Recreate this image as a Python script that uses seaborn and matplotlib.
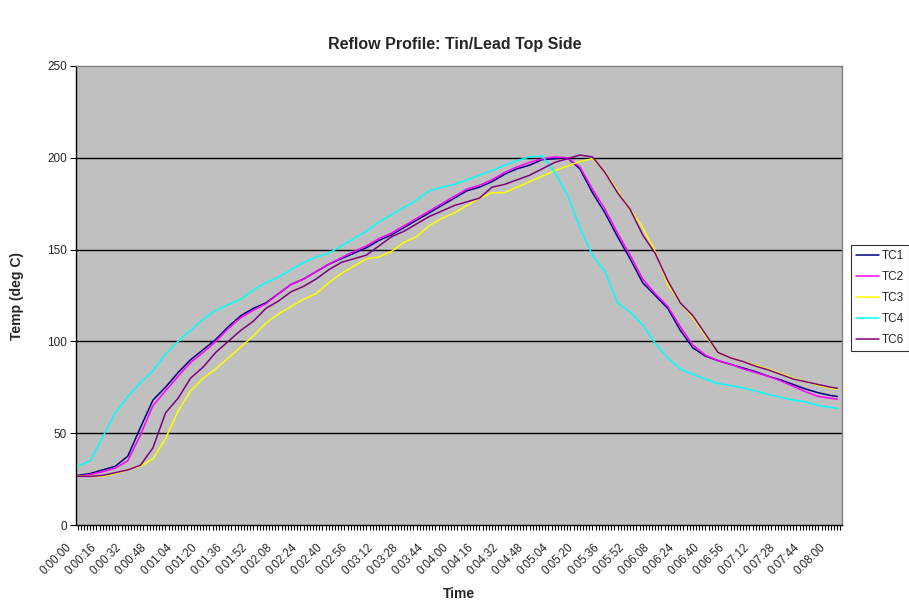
import numpy as np
import pandas as pd
import seaborn as sns
import matplotlib
matplotlib.use("Agg")
import matplotlib.pyplot as plt
from matplotlib.ticker import MultipleLocator, FuncFormatter
from matplotlib.lines import Line2D
import matplotlib.transforms as mtransforms

# Elapsed time in seconds (8 s steps, plus the final sample)
seconds = list(range(0, 481, 8)) + [484]

tc1 = [27, 28, 30, 32, 37.5, 53, 68, 75, 83, 90, 95.5, 101, 108, 114, 118, 121,
       126, 131, 134, 138, 142, 145, 148, 151, 155, 158, 162, 166, 170, 174, 178,
       182, 184, 187, 191, 194, 196, 199, 199.5, 200, 194, 181, 170, 157, 145,
       132, 125, 118, 106, 96.5, 92, 89.5, 87.5, 85.5, 83.5, 81, 79, 76.5, 74,
       72, 70.5, 70]
tc2 = [26.5, 27.5, 29, 31, 35, 49, 65, 73, 81, 88.5, 94, 100, 107, 113, 117,
       120.5, 126, 131, 134, 138, 142, 145.5, 149, 152, 156, 159, 163, 167, 171,
       175, 179, 183, 185, 188, 192, 195, 197.5, 199.5, 200.5, 200, 195, 183,
       172, 159, 147, 134, 126, 119, 108, 98, 92.5, 89.5, 87.5, 85, 83, 81, 78.5,
       75.5, 72.5, 70, 69, 68.5]
tc3 = [26.5, 26.5, 26.5, 28, 30, 32, 36, 47, 62, 73, 80, 85, 91, 97, 103, 110,
       115, 119, 123, 126, 132, 137, 141, 145, 146, 149, 154, 157, 163, 167, 170,
       174, 178, 181, 181, 184, 187, 190, 193, 195.5, 198, 199.5, 192.5, 182,
       172, 162, 149, 131, 121, 113, 103, 94, 91, 89, 87, 85, 82.5, 80, 78, 76,
       74.5, 74]
tc4 = [32, 35, 48, 61, 70, 77.5, 84, 93, 100, 106, 112, 117, 120, 123, 128, 132,
       135, 139, 143, 146, 148, 152, 156, 160, 165, 169, 173, 177, 182, 184,
       185.5, 188, 190.5, 193, 196, 198.5, 200.5, 201, 192, 180, 162, 147, 138,
       121, 116, 109, 99, 91, 85, 82, 79.5, 77, 76, 74.5, 73, 71, 69.5, 68, 67,
       65, 64, 63.5]
tc6 = [26.5, 26.5, 27, 28.5, 30, 32.5, 42, 61, 69, 80, 86, 94, 100, 106, 111,
       118, 122, 127, 130, 134, 139, 143, 145, 147, 152, 157, 160, 164, 168, 171,
       174, 176, 178, 184, 185.5, 188, 190.5, 194, 197.5, 199.5, 201.5, 200.5,
       192, 181, 172, 158, 148, 133, 121, 114, 104, 94, 91, 89, 86.5, 84.5, 82,
       79.5, 78, 76.5, 75, 74.5]

sensors = ["TC1", "TC2", "TC3", "TC4", "TC6"]
colors = ["#000080", "#FF00FF", "#FFFF00", "#00FFFF", "#800080"]

df = pd.concat(
    [pd.DataFrame({"seconds": seconds, "temp": vals, "sensor": name})
     for name, vals in zip(sensors, [tc1, tc2, tc3, tc4, tc6])],
    ignore_index=True,
)

sns.set_style("white")
plt.rcParams["font.family"] = ["Liberation Sans", "DejaVu Sans"]

fig = plt.figure(figsize=(9.09, 6.03), dpi=100)
ax = fig.add_axes([76 / 909, 78 / 603, 766 / 909, 459 / 603])
ax.set_facecolor("#C0C0C0")

# horizontal grid lines at every 50 degrees (below the top border)
for yv in (50, 100, 150, 200):
    ax.axhline(yv, color="black", lw=1.0, zorder=1)

sns.lineplot(data=df, x="seconds", y="temp", hue="sensor",
             palette=dict(zip(sensors, colors)), hue_order=sensors,
             linewidth=1.1, legend=False, ax=ax, zorder=3)

ax.set_xlim(-1, 487)
ax.set_ylim(0, 250)
ax.set_yticks(np.arange(0, 251, 50))
ax.xaxis.set_major_locator(MultipleLocator(16))
ax.xaxis.set_minor_locator(MultipleLocator(2))


def hms(v, pos=None):
    v = int(round(v))
    return f"{v // 3600}:{(v % 3600) // 60:02d}:{v % 60:02d}"


ax.xaxis.set_major_formatter(FuncFormatter(hms))
ax.tick_params(axis="x", which="both", direction="out", length=3.5,
               width=0.8, color="black", bottom=True, labelsize=8.3, pad=8.5)
ax.tick_params(axis="y", which="major", direction="out", length=4.5,
               width=0.8, color="black", left=True, labelsize=8.5, pad=2)
for lab in ax.get_xticklabels():
    lab.set_rotation(45)
    lab.set_ha("right")
    lab.set_va("top")
    lab.set_rotation_mode("anchor")
    lab.set_transform(lab.get_transform() + mtransforms.ScaledTranslation(
        -12 / 100, 0, fig.dpi_scale_trans))

for side in ("left", "bottom"):
    ax.spines[side].set_color("black")
    ax.spines[side].set_linewidth(1.0)
for side in ("top", "right"):
    ax.spines[side].set_color("#808080")
    ax.spines[side].set_linewidth(1.0)

ax.set_xlabel("")
ax.set_ylabel("")
fig.text(455 / 909, 1 - 45 / 603, "Reflow Profile: Tin/Lead Top Side",
         ha="center", va="center", fontsize=11.5, fontweight="bold")
fig.text(17 / 909, 1 - 296 / 603, "Temp (deg C)", rotation=90,
         ha="center", va="center", fontsize=10, fontweight="bold")
fig.text(459 / 909, 1 - 594 / 603, "Time",
         ha="center", va="center", fontsize=10, fontweight="bold")

handles = [Line2D([], [], color=c, lw=1.1) for c in colors]
leg = fig.legend(handles, sensors, loc="upper left",
                 bbox_to_anchor=(851 / 909, 1 - 245 / 603),
                 frameon=True, fancybox=False, fontsize=8.5,
                 handlelength=1.9, handletextpad=0.25, labelspacing=0.75,
                 borderpad=0.45, borderaxespad=0)
leg.get_frame().set_edgecolor("black")
leg.get_frame().set_linewidth(0.8)

fig.savefig("out.png", dpi=100)
